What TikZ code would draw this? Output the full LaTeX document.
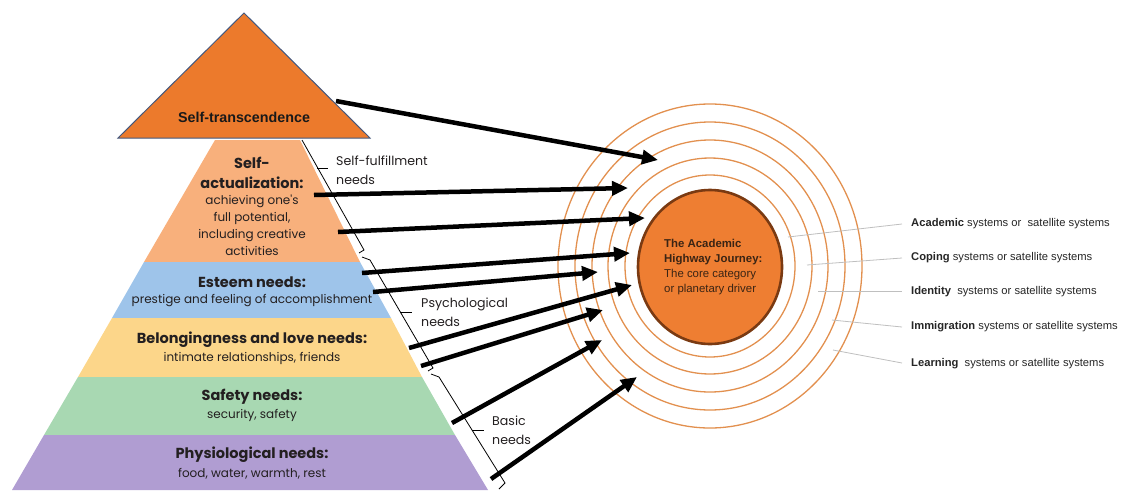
\documentclass[tikz,border=0pt]{standalone}
\usepackage{fontspec}
\setmainfont{Liberation Sans}
\newfontfamily\fut{Poppins}
\usetikzlibrary{arrows.meta,shapes.geometric}
\definecolor{tric}{HTML}{EC7A2C}
\definecolor{triedge}{HTML}{44587E}
\definecolor{peach}{HTML}{F8B07C}
\definecolor{bluec}{HTML}{9EC4EA}
\definecolor{yellowc}{HTML}{FCD68A}
\definecolor{greenc}{HTML}{A8D8B2}
\definecolor{purplec}{HTML}{B09DD2}
\definecolor{corec}{HTML}{EE7E32}
\definecolor{coreedge}{HTML}{7A3A12}
\definecolor{ringc}{HTML}{E2904F}
\definecolor{txt}{HTML}{231F20}
\definecolor{coretxt}{HTML}{3A2414}
\begin{document}
\begin{tikzpicture}[x=1pt,y=-1pt,
  ttl/.style={font=\fut\bfseries\fontsize{14.5}{20}\selectfont, align=center, text=txt, inner sep=0pt},
  sub/.style={font=\fut\fontsize{12}{17}\selectfont, align=center, text=txt, inner sep=0pt},
  grp/.style={font=\fut\fontsize{12.6}{19}\selectfont, align=left, text=txt, inner sep=0pt, anchor=west},
  arr/.style={line width=4.5pt, -{Triangle[length=16pt,width=14pt]}},
  ring/.style={draw=ringc, line width=1.3pt},
  ptr/.style={draw=black!25, line width=0.8pt},
  brk/.style={line width=0.8pt, line join=miter},
  sat/.style={font=\fontsize{11.2}{13}\selectfont, text=black!85, anchor=west, inner sep=0pt}]
\useasboundingbox (0,0) rectangle (1126,490);

% pyramid bands
\fill[peach] (215,140) -- (300,140) -- (360,262) -- (144,262) -- cycle;
\fill[bluec] (144,262) -- (360,262) -- (391,318) -- (112,318) -- cycle;
\fill[yellowc] (112,318) -- (391,318) -- (422,377) -- (78,377) -- cycle;
\fill[greenc] (78,377) -- (422,377) -- (455,435) -- (44,435) -- cycle;
\fill[purplec] (44,435) -- (455,435) -- (488,490) -- (12,490) -- cycle;

% top triangle
\filldraw[fill=tric, draw=triedge, line width=1pt] (244,13) -- (370,138) -- (118,138) -- cycle;
\node[font=\bfseries\fontsize{14.3}{16}\selectfont, text=black!90] (st) at (244,117) {Self-transcendence};

% band texts
\node[ttl] (sa1) at (252,173) {Self-\\actualization:};
\node[sub] (sa2) at (252,225) {achieving one's\\full potential,\\including creative\\activities};
\node[ttl] (es1) at (252,282) {Esteem needs:};
\node[sub] (es2) at (252,301) {prestige and feeling of accomplishment};
\node[ttl] (be1) at (252,340) {Belongingness and love needs:};
\node[sub] (be2) at (252,358) {intimate relationships, friends};
\node[ttl] (sf1) at (252,397) {Safety needs:};
\node[sub] (sf2) at (252,415) {security, safety};
\node[ttl] (ph1) at (252,455) {Physiological needs:};
\node[sub] (ph2) at (252,474) {food, water, warmth, rest};

% brackets
\draw[brk] (302,140) -- (364,250) -- (359,253);
\draw[brk] (317,168) -- (328,168);
\draw[brk] (362,257) -- (370,260) -- (433,368) -- (428,371);
\draw[brk] (400,312) -- (412,312);
\draw[brk] (431,374) -- (439,377) -- (505,483) -- (499,489);
\draw[brk] (472,430) -- (484,430);
\node[grp] (g1) at (336,170) {Self-fulfillment\\needs};
\node[grp] (g2) at (421,312) {Psychological\\needs};
\node[grp] (g3) at (492,430) {Basic\\needs};

% rings and core
\foreach \rx/\ry in {152/162,135/144,118/126,102/108,85/91}
  \draw[ring] (710,266) ellipse [x radius=\rx, y radius=\ry];
\node[ellipse, draw=coreedge, line width=2.6pt, fill=corec, inner sep=0pt,
      minimum width=144pt, minimum height=154pt] (core) at (710,267) {};
\node[font=\fontsize{11.4}{15}\selectfont, text=coretxt, align=left, anchor=west, inner sep=0pt] (ct) at (664,267)
  {\textbf{The Academic}\\\textbf{Highway Journey:}\\The core category\\or planetary driver};

% arrows
\coordinate (s1) at (336,101); \coordinate (t1) at (658,160);
\coordinate (s2) at (314,195); \coordinate (t2) at (628,188);
\coordinate (s3) at (338,232); \coordinate (t3) at (645,218);
\coordinate (s4) at (362,273); \coordinate (t4) at (630,253);
\coordinate (s5) at (373,292); \coordinate (t5) at (598,272);
\coordinate (s6) at (409,348); \coordinate (t6) at (632,285);
\coordinate (s7) at (421,366); \coordinate (t7) at (603,310);
\coordinate (s8) at (452,423); \coordinate (t8) at (602,340);
\coordinate (s9) at (491,479); \coordinate (t9) at (637,377);
\foreach \i in {1,...,9} \draw[arr] (s\i) -- (t\i);

% satellite labels
\coordinate (p1) at (788,237); \coordinate (q1) at (902,224);
\coordinate (p2) at (807,265); \coordinate (q2) at (902,258);
\coordinate (p3) at (818,291); \coordinate (q3) at (902,291);
\coordinate (p4) at (832,320); \coordinate (q4) at (902,327);
\coordinate (p5) at (833,350); \coordinate (q5) at (902,363);
\foreach \i in {1,...,5} \draw[ptr] (p\i) -- (q\i);
\node[sat] (l1) at (911,224) {\textbf{Academic} systems or \ satellite systems};
\node[sat] (l2) at (911,258) {\textbf{Coping} systems or satellite systems};
\node[sat] (l3) at (911,292) {\textbf{Identity} \ systems or satellite systems};
\node[sat] (l4) at (911,327) {\textbf{Immigration} systems or satellite systems};
\node[sat] (l5) at (911,364) {\textbf{Learning} \ systems or satellite systems};
\end{tikzpicture}
\end{document}
